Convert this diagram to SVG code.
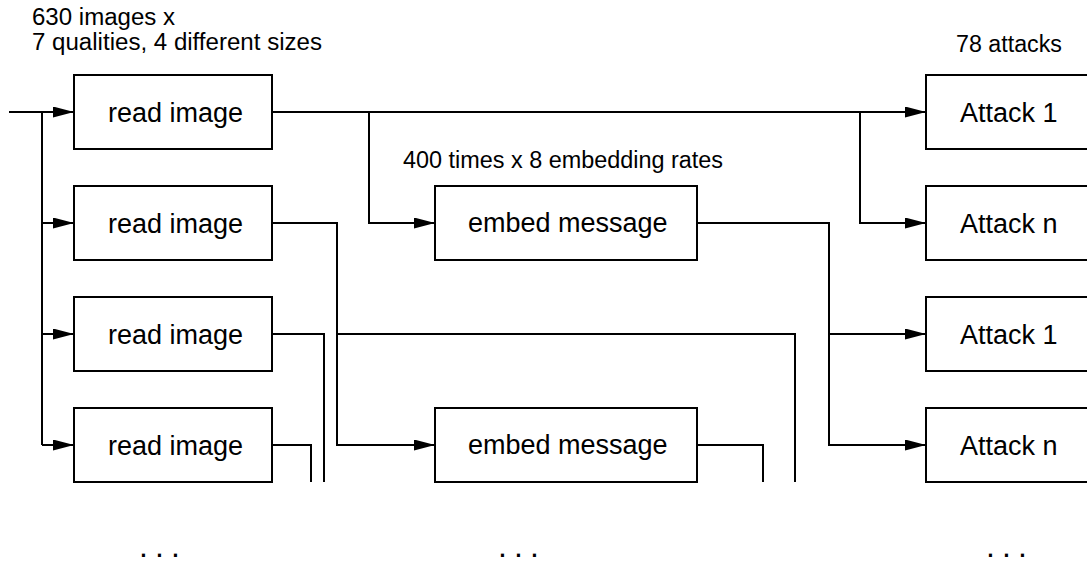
<svg xmlns="http://www.w3.org/2000/svg" width="1087" height="563" viewBox="0 0 1087 563">
<style>
.box{fill:#fff;stroke:#000;stroke-width:2}
.lbl{font-family:"Liberation Sans",Arial,sans-serif;font-size:27px;fill:#000}
.note{font-family:"Liberation Sans",Arial,sans-serif;font-size:23.5px;fill:#000}
.dots{font-family:"Liberation Sans",Arial,sans-serif;font-size:32px;letter-spacing:7.1px;fill:#000}
.wire{fill:none;stroke:#000;stroke-width:2}
.arr{marker-end:url(#ah)}
</style>
<defs>
<marker id="ah" markerUnits="userSpaceOnUse" markerWidth="22" markerHeight="12" refX="21" refY="5.5" orient="auto">
<path d="M0,0 L21,5.5 L0,11 z" fill="#000"/>
</marker>
</defs>
<rect width="1087" height="563" fill="#fff"/>
<g id="notes">
<text class="note" x="32" y="25" textLength="143" lengthAdjust="spacingAndGlyphs">630 images x</text>
<text class="note" x="32" y="50" textLength="290" lengthAdjust="spacingAndGlyphs">7 qualities, 4 different sizes</text>
<text class="note" x="956" y="52" textLength="106" lengthAdjust="spacingAndGlyphs">78 attacks</text>
<text class="note" x="403" y="168" textLength="320" lengthAdjust="spacingAndGlyphs">400 times x 8 embedding rates</text>
</g>
<g id="connectors">
<path class="wire arr" d="M9,112 H74"/>
<path class="wire" d="M42,112 V445"/>
<path class="wire arr" d="M42,223 H74"/>
<path class="wire arr" d="M42,334 H74"/>
<path class="wire arr" d="M42,445 H74"/>
<path class="wire arr" d="M272,112 H926"/>
<path class="wire arr" d="M369,112 V223 H435"/>
<path class="wire arr" d="M860,112 V223 H926"/>
<path class="wire arr" d="M697,223 H829 V445 H926"/>
<path class="wire arr" d="M829,334 H926"/>
<path class="wire arr" d="M272,223 H337 V445 H435"/>
<path class="wire" d="M337,334 H795 V482"/>
<path class="wire" d="M272,334 H324 V482"/>
<path class="wire" d="M272,445 H311 V482"/>
<path class="wire" d="M697,445 H763 V482"/>
</g>
<g id="read1"><rect class="box" x="74" y="75" width="198" height="74"/><text class="lbl" x="108" y="122">read image</text></g>
<g id="read2"><rect class="box" x="74" y="186" width="198" height="74"/><text class="lbl" x="108" y="233">read image</text></g>
<g id="read3"><rect class="box" x="74" y="297" width="198" height="74"/><text class="lbl" x="108" y="344">read image</text></g>
<g id="read4"><rect class="box" x="74" y="408" width="198" height="74"/><text class="lbl" x="108" y="455">read image</text></g>
<g id="embed1"><rect class="box" x="435" y="186" width="262" height="74"/><text class="lbl" x="468" y="232">embed message</text></g>
<g id="embed2"><rect class="box" x="435" y="408" width="262" height="74"/><text class="lbl" x="468" y="454">embed message</text></g>
<g id="attack1a"><rect class="box" x="926" y="75" width="198" height="74"/><text class="lbl" x="960" y="122">Attack 1</text></g>
<g id="attackna"><rect class="box" x="926" y="186" width="198" height="74"/><text class="lbl" x="960" y="233">Attack n</text></g>
<g id="attack1b"><rect class="box" x="926" y="297" width="198" height="74"/><text class="lbl" x="960" y="344">Attack 1</text></g>
<g id="attacknb"><rect class="box" x="926" y="408" width="198" height="74"/><text class="lbl" x="960" y="455">Attack n</text></g>
<g id="ellipses">
<text class="dots" x="139" y="557">...</text>
<text class="dots" x="498" y="557">...</text>
<text class="dots" x="986" y="557">...</text>
</g>
</svg>
